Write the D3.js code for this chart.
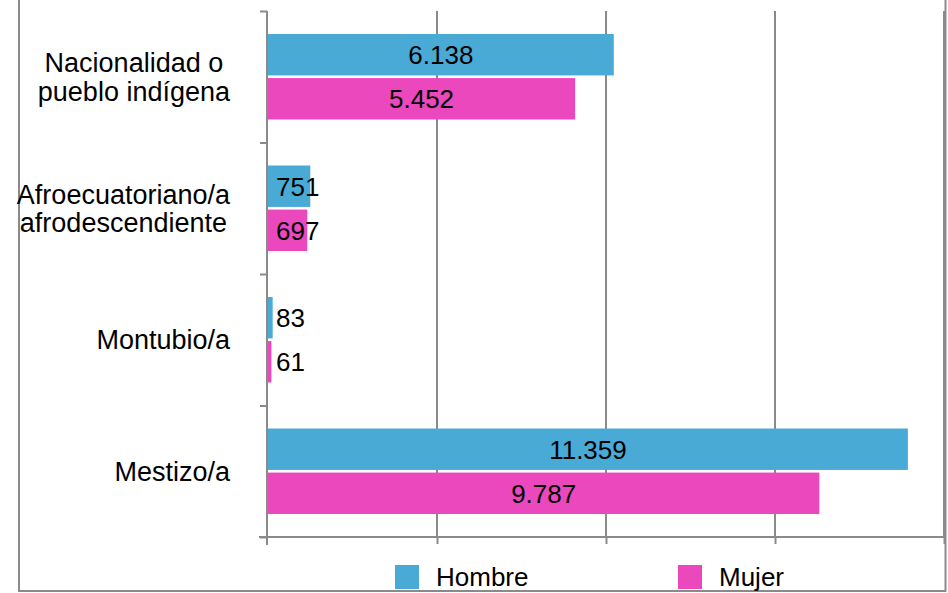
<!DOCTYPE html>
<html>
<head>
<meta charset="UTF-8">
<title>Autoidentificación por sexo</title>
<script src="https://cdn.jsdelivr.net/npm/d3@7"></script>
<style>
  body { margin: 0; background: #fff; }
  svg text { font-family: "Liberation Sans", Arial, sans-serif; fill: #000; }
</style>
</head>
<body>
<div id="chart"></div>
<script>
// datos
const categories = [["Nacionalidad o", "pueblo indígena"], ["Afroecuatoriano/a", "afrodescendiente"], ["Montubio/a"], ["Mestizo/a"]];
const series = ["Hombre", "Mujer"];
const hombre = [6138, 751, 83, 11359];
const mujer = [5452, 697, 61, 9787];
const ticks = [0, 3000, 6000, 9000, 12000];
const colors = ["#4aaad6", "#ec48be"];

const width = 948, height = 593;
const fs = 26;
const fmt = v => d3.format(",")(v).replace(/,/g, ".");

const svg = d3.select("#chart").append("svg")
    .attr("width", width)
    .attr("height", height);

const x = d3.scaleLinear().domain([0, 12000]).range([268, 944]);
const keys = categories.map(c => c.join(" "));
const y0 = d3.scaleBand().domain(keys).range([11, 537]);
const y1 = d3.scaleBand().domain(series).range([23, y0.bandwidth() - 23]).paddingInner(0.06);
const yEdge = d3.scaleLinear().domain([0, keys.length]).range([11, 537]);

// marco exterior
svg.append("rect")
    .attr("x", 19).attr("y", -5)
    .attr("width", 926.5).attr("height", 596)
    .attr("fill", "none").attr("stroke", "#8a8a8a").attr("stroke-width", 2);

// lineas de cuadricula
svg.append("g").selectAll("line")
    .data(ticks.slice(1))
    .join("line")
    .attr("x1", d => x(d)).attr("x2", d => x(d))
    .attr("y1", 11).attr("y2", 537)
    .attr("stroke", "#8a8a8a").attr("stroke-width", 2);

// ejes
const gx = svg.append("g")
    .attr("transform", "translate(0,537)")
    .call(d3.axisBottom(x).tickValues(ticks.slice(1)).tickSize(7).tickFormat(""));
gx.select(".domain").attr("d", "M259,0H946");

const gy = svg.append("g")
    .attr("transform", "translate(267,0)")
    .call(d3.axisLeft(yEdge).ticks(keys.length).tickSize(7).tickFormat(""));
gy.select(".domain").attr("d", "M0,11V545");

svg.selectAll(".domain, .tick line")
    .attr("stroke", "#8a8a8a").attr("stroke-width", 2);

// barras
const rows = keys.map((k, i) => ({ key: k, values: [hombre[i], mujer[i]] }));

const groups = svg.append("g").selectAll("g")
    .data(rows)
    .join("g")
    .attr("transform", d => "translate(0," + y0(d.key) + ")");

const cells = groups.selectAll("g")
    .data(d => d.values.map((v, j) => ({ s: series[j], v: v, c: colors[j] })))
    .join("g");

cells.append("rect")
    .attr("x", x(0))
    .attr("y", d => y1(d.s))
    .attr("width", d => x(d.v) - x(0))
    .attr("height", y1.bandwidth())
    .attr("fill", d => d.c);

cells.append("text")
    .attr("y", d => y1(d.s) + y1.bandwidth() / 2 + fs * 0.36)
    .attr("font-size", fs)
    .text(d => fmt(d.v))
    .each(function(d) {
        const w = this.getComputedTextLength();
        const mid = (x(0) + x(d.v)) / 2;
        d3.select(this).attr("x", Math.max(mid - w / 2, x(0) + 8));
    });

// etiquetas de categorias
const cfs = 27;
const labels = svg.append("g").selectAll("g")
    .data(categories)
    .join("g");

labels.each(function(lines, i) {
    const g = d3.select(this);
    const lh = 28.5;
    const cy = y0(keys[i]) + y0.bandwidth() / 2;
    const t = g.selectAll("text")
        .data(lines)
        .join("text")
        .attr("font-size", cfs)
        .attr("text-anchor", "middle")
        .attr("y", (d, k) => cy + cfs * 0.36 + (k - (lines.length - 1) / 2) * lh)
        .text(d => d);
    let maxW = 0;
    t.each(function() { maxW = Math.max(maxW, this.getComputedTextLength()); });
    t.attr("x", 230 - maxW / 2);
});

// leyenda
const legendX = [395, 678];
const legend = svg.append("g").selectAll("g")
    .data(series)
    .join("g")
    .attr("transform", (d, i) => "translate(" + legendX[i] + ",565)");

legend.append("rect")
    .attr("width", 24).attr("height", 24)
    .attr("fill", (d, i) => colors[i]);

legend.append("text")
    .attr("x", 41).attr("y", 21)
    .attr("font-size", fs)
    .text(d => d);
</script>
</body>
</html>
